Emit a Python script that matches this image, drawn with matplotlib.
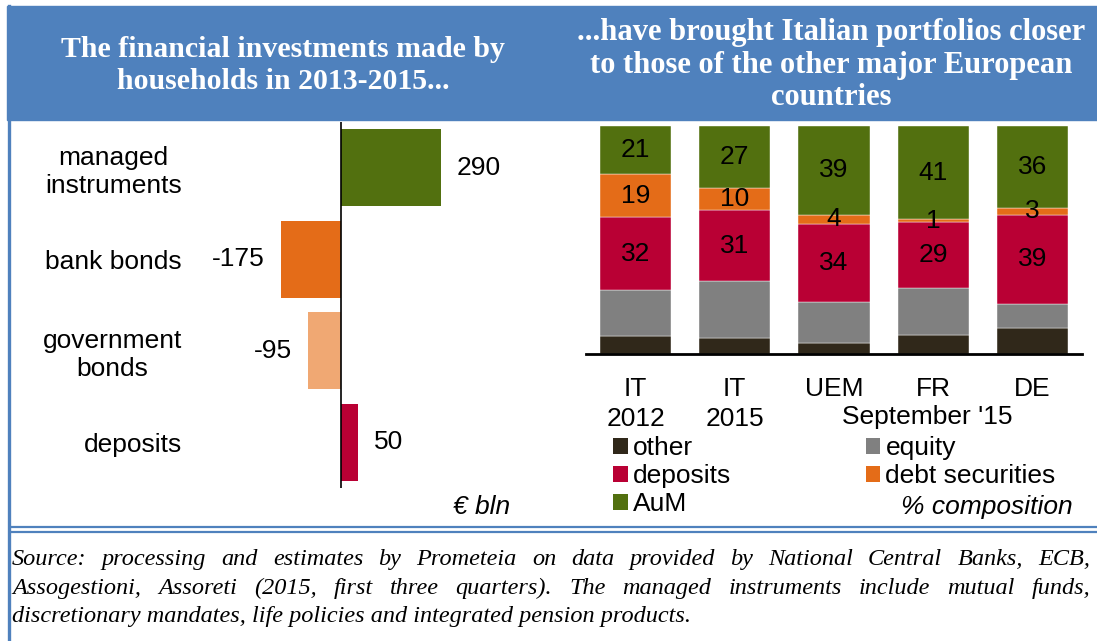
import matplotlib
matplotlib.use("Agg")
import matplotlib.pyplot as plt
from matplotlib.patches import Rectangle, Patch
from matplotlib.lines import Line2D

# left panel: household flows 2013-2015, EUR bln
flow_labels = ["managed\ninstruments", "bank bonds", "government\nbonds", "deposits"]
flow_values = [290, -175, -95, 50]
flow_colors = ["#52700F", "#E46C18", "#F0A873", "#B90034"]

# right panel: % composition of portfolios
groups = ["IT\n2012", "IT\n2015", "UEM", "FR", "DE"]
period_note = "September '15"
comp_other = [8, 7, 5, 8.5, 11.5]
comp_equity = [20, 25, 18, 20.5, 10.5]
comp_deposits = [32, 31, 34, 29, 39]
comp_debt = [19, 10, 4, 1, 3]
comp_aum = [21, 27, 39, 41, 36]
series_names = ["other", "equity", "deposits", "debt securities", "AuM"]
series_colors = ["#30281A", "#808080", "#B90034", "#E46C18", "#52700F"]

title_left = "The financial investments made by\nhouseholds in 2013-2015..."
title_right = "...have brought Italian portfolios closer\nto those of the other major European\ncountries"
source_lines = [
    "Source: processing and estimates by Prometeia on data provided by National Central Banks, ECB,",
    "Assogestioni, Assoreti (2015, first three quarters). The managed instruments include mutual funds,",
    "discretionary mandates, life policies and integrated pension products.",
]

W, H = 1097, 641
BLUE = "#4F81BD"
SANS = "Liberation Sans"
SERIF = "Liberation Serif"
FS = 19


def fx(x):
    return x / W


def fy(y):
    return 1 - y / H


def px_axes(fig, left, top, right, bottom):
    return fig.add_axes([fx(left), fy(bottom), (right - left) / W, (bottom - top) / H])


def justified_line(fig, line, x0, x1, y, **kw):
    texts = [fig.text(fx(x0), fy(y), w, va="baseline", **kw) for w in line.split()]
    renderer = fig.canvas.get_renderer()
    widths = [t.get_window_extent(renderer).width for t in texts]
    gap = (x1 - x0 - sum(widths)) / (len(texts) - 1)
    x = x0
    for t, w in zip(texts, widths):
        t.set_x(fx(x))
        x += w + gap


plt.rcParams["font.family"] = SANS
fig = plt.figure(figsize=(W / 100, H / 100), dpi=100)
fig.patch.set_facecolor("white")

# header band and frame
fig.patches.append(Rectangle((fx(7), fy(120)), (W - 7) / W, 114 / H,
                             transform=fig.transFigure, color=BLUE, zorder=0))
fig.lines.append(Line2D([fx(8.5), fx(8.5)], [fy(6), fy(639)], transform=fig.transFigure,
                        color=BLUE, lw=2.4))
for yy in (527, 531.5):
    fig.lines.append(Line2D([fx(10), 1], [fy(yy), fy(yy)], transform=fig.transFigure,
                            color=BLUE, lw=1.6))

fig.text(fx(283), fy(65.5), title_left, ha="center", va="center", color="white",
         family=SERIF, weight="bold", fontsize=21.5, linespacing=1.22)
fig.text(fx(831), fy(65), title_right, ha="center", va="center", color="white",
         family=SERIF, weight="bold", fontsize=22, linespacing=1.18)

# left panel: horizontal bars
zero_px, scale = 341, 100 / 290
axl = px_axes(fig, 200, 122, 540, 488)
ypos = list(range(len(flow_values)))
bars = axl.barh(ypos, flow_values, height=0.84, color=flow_colors)
axl.set_xlim((200 - zero_px) / scale, (540 - zero_px) / scale)
axl.set_ylim(len(flow_values) - 0.5, -0.5)
axl.axvline(0, color="black", lw=1.2)
axl.bar_label(bars, padding=11.5, fontsize=FS)
axl.set_yticks(ypos, flow_labels, fontsize=FS)
for lbl in axl.get_yticklabels():
    lbl.set_multialignment("center")
axl.tick_params(axis="y", length=0, pad=13)
axl.set_xticks([])
for s in axl.spines.values():
    s.set_visible(False)
fig.text(fx(510), fy(507), "€ bln", ha="right", va="center", style="italic", fontsize=FS)

# right panel: stacked composition bars
axr = px_axes(fig, 586, 126, 1082, 354)
xpos = list(range(len(groups)))
bottom = [0] * len(groups)
containers = []
for vals, name, col in zip([comp_other, comp_equity, comp_deposits, comp_debt, comp_aum],
                           series_names, series_colors):
    c = axr.bar(xpos, vals, bottom=bottom, width=0.716, color=col, label=name,
                edgecolor="white", linewidth=0.3)
    containers.append(c)
    bottom = [b + v for b, v in zip(bottom, vals)]
for c in containers[2:]:
    axr.bar_label(c, label_type="center", fmt="%g", fontsize=FS)
axr.set_xlim(-0.5, len(groups) - 0.5)
axr.set_ylim(0, max(bottom))
axr.set_yticks([])
axr.set_xticks(xpos, groups, fontsize=FS, linespacing=1.3)
axr.tick_params(axis="x", length=0, pad=16.5)
for side in ("left", "right", "top"):
    axr.spines[side].set_visible(False)
axr.spines["bottom"].set_linewidth(2)
axr.text(2.94, -0.277, period_note, transform=axr.get_xaxis_transform(),
         ha="center", va="center", fontsize=FS)

order = [0, 2, 4, 1, 3]
handles = [Patch(facecolor=series_colors[i], label=series_names[i]) for i in order]
fig.legend(handles=handles, ncol=2, loc="upper left", bbox_to_anchor=(fx(613), fy(436)),
           frameon=False, fontsize=FS, handlelength=0.55, handleheight=0.55,
           handletextpad=0.2, columnspacing=5.1, labelspacing=0.16,
           borderpad=0, borderaxespad=0)
fig.text(fx(1073), fy(507), "% composition", ha="right", va="center", style="italic",
         fontsize=FS)

# source note, justified like the original
src_kw = dict(family=SERIF, style="italic", fontsize=17.5)
justified_line(fig, source_lines[0], 12, 1090, 565, **src_kw)
justified_line(fig, source_lines[1], 12, 1090, 594, **src_kw)
fig.text(fx(12), fy(622), source_lines[2], va="baseline", **src_kw)

fig.savefig("out.png", dpi=100)
